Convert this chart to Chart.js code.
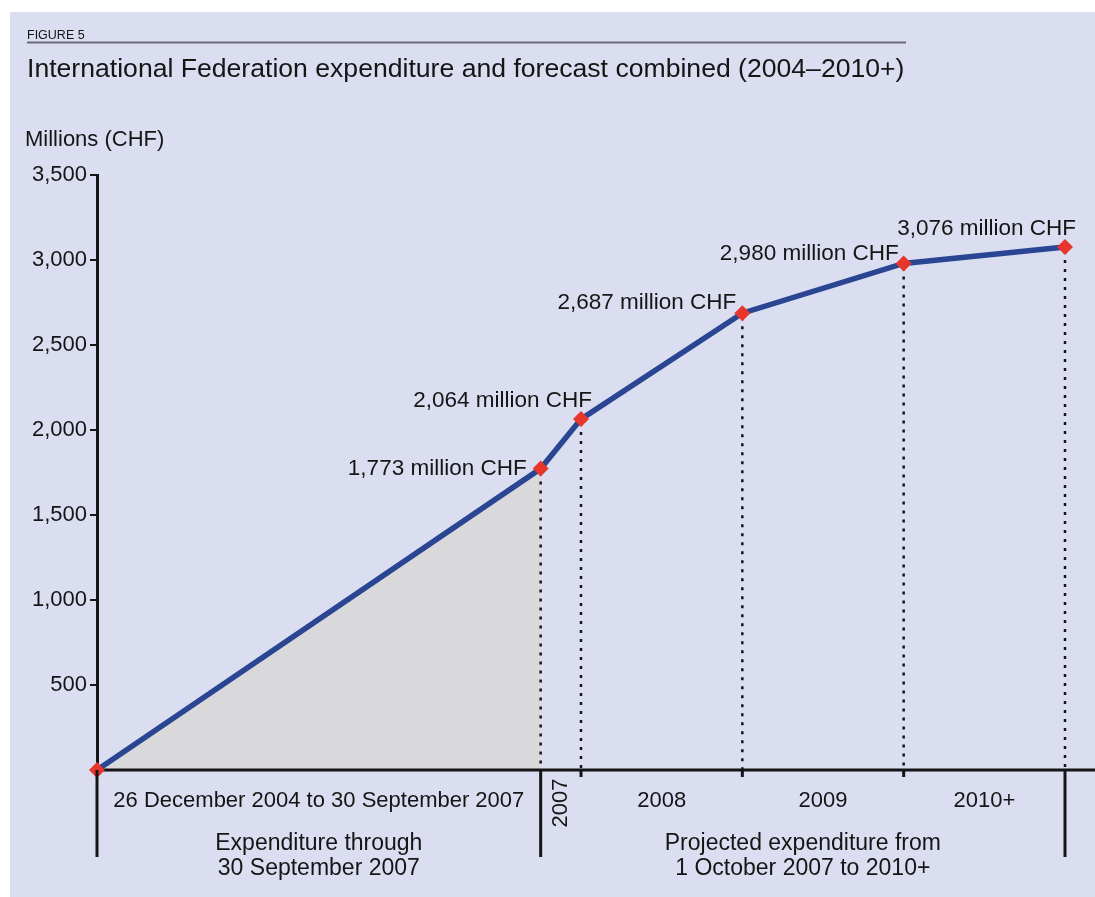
<!DOCTYPE html>
<html>
<head>
<meta charset="utf-8">
<script src="https://cdn.jsdelivr.net/npm/chart.js@4.4.1/dist/chart.umd.min.js"></script>
<style>
  html, body { margin: 0; padding: 0; background: #fff; }
  #panel { position: absolute; left: 10px; top: 12px; width: 1085px; height: 885px; background: #dbdef0; }
</style>
</head>
<body>
<div id="panel"><canvas id="chart" width="1085" height="885"></canvas></div>
<script>
// months since 26 December 2004 at the end of each period
const periodEnds = [0, 33, 36, 48, 60, 72];
// cumulative expenditure, millions CHF
const cumulative = [0, 1773, 2064, 2687, 2980, 3076];
const periodLabels = ['26 December 2004 to 30 September 2007', '2007', '2008', '2009', '2010+'];
const groupLabels = [
    ['Expenditure through', '30 September 2007'],
    ['Projected expenditure from', '1 October 2007 to 2010+']
];
const yTicks = [500, 1000, 1500, 2000, 2500, 3000, 3500];

const FONT = 'Liberation Sans, Arial, sans-serif';
const INK = '#151515';

// label placement next to each point: [dx, dy]
const labelOffsets = [null, [-14, 0], [11, -18], [-6, -10], [-5, -10], [11, -18]];

const fmt = v => v.toLocaleString('en-US');

const decorations = {
    id: 'decorations',
    afterDatasetDraw(chart, args) {
        if (args.index !== 1) return;
        // horizontal axis over the grey fill, running to the panel edge
        const { ctx, chartArea, width } = chart;
        ctx.save();
        ctx.strokeStyle = INK;
        ctx.lineWidth = 3;
        ctx.beginPath();
        ctx.moveTo(chartArea.left, chartArea.bottom);
        ctx.lineTo(width, chartArea.bottom);
        ctx.stroke();
        // dotted drop lines
        const { x, y } = chart.scales;
        ctx.lineWidth = 2.5;
        ctx.setLineDash([3, 6]);
        for (let i = 1; i < periodEnds.length; i++) {
            const px = x.getPixelForValue(periodEnds[i]);
            ctx.beginPath();
            ctx.moveTo(px, y.getPixelForValue(cumulative[i]) + 4);
            ctx.lineTo(px, chartArea.bottom);
            ctx.stroke();
        }
        ctx.restore();
    },
    afterDraw(chart) {
        const { ctx, chartArea, scales: { x, y } } = chart;
        const bottom = chartArea.bottom;
        ctx.save();

        // heading
        ctx.fillStyle = INK;
        ctx.textBaseline = 'alphabetic';
        ctx.textAlign = 'left';
        ctx.font = '12.5px ' + FONT;
        ctx.fillText('FIGURE 5', 17, 27);
        ctx.strokeStyle = '#6a6a78';
        ctx.lineWidth = 2;
        ctx.beginPath();
        ctx.moveTo(17, 30.5);
        ctx.lineTo(896, 30.5);
        ctx.stroke();
        ctx.font = '26.6px ' + FONT;
        ctx.fillText('International Federation expenditure and forecast combined (2004\u20132010+)', 17, 65);
        ctx.textBaseline = 'middle';
        ctx.font = '22px ' + FONT;
        ctx.fillText('Millions (CHF)', 15, 128);

        // period dividers below the axis
        ctx.strokeStyle = INK;
        ctx.lineWidth = 3;
        const longIdx = [0, 1, periodEnds.length - 1];
        for (let i = 0; i < periodEnds.length; i++) {
            const px = x.getPixelForValue(periodEnds[i]);
            ctx.beginPath();
            ctx.moveTo(px, bottom);
            ctx.lineTo(px, longIdx.includes(i) ? bottom + 87 : bottom + 7);
            ctx.stroke();
        }

        // period labels
        ctx.font = '22px ' + FONT;
        ctx.textAlign = 'center';
        for (let i = 0; i < periodLabels.length; i++) {
            const cx = (x.getPixelForValue(periodEnds[i]) + x.getPixelForValue(periodEnds[i + 1])) / 2;
            if (periodLabels[i] === '2007') {
                ctx.save();
                ctx.translate(cx, bottom + 33);
                ctx.rotate(-Math.PI / 2);
                ctx.fillText(periodLabels[i], 0, 0);
                ctx.restore();
            } else {
                ctx.fillText(periodLabels[i], cx, bottom + 31);
            }
        }

        // group labels
        ctx.font = '23px ' + FONT;
        const groups = [[periodEnds[0], periodEnds[1]], [periodEnds[1], periodEnds[periodEnds.length - 1]]];
        groups.forEach((g, i) => {
            const cx = (x.getPixelForValue(g[0]) + x.getPixelForValue(g[1])) / 2;
            ctx.fillText(groupLabels[i][0], cx, bottom + 74);
            ctx.fillText(groupLabels[i][1], cx, bottom + 99);
        });

        // value labels
        ctx.font = '22.5px ' + FONT;
        ctx.textAlign = 'right';
        for (let i = 1; i < cumulative.length; i++) {
            const px = x.getPixelForValue(periodEnds[i]);
            const py = y.getPixelForValue(cumulative[i]);
            const [dx, dy] = labelOffsets[i];
            ctx.fillText(fmt(cumulative[i]) + ' million CHF', px + dx, py + dy);
        }
        ctx.restore();
    }
};

const points = periodEnds.map((m, i) => ({ x: m, y: cumulative[i] }));

new Chart(document.getElementById('chart'), {
    type: 'line',
    data: {
        datasets: [{
            data: points,
            borderColor: '#2a4592',
            borderWidth: 5.5,
            tension: 0,
            fill: false,
            clip: false,
            pointStyle: 'rectRot',
            pointRadius: 8,
            pointBackgroundColor: '#e8362c',
            pointBorderWidth: 0,
            order: 1
        }, {
            data: points.slice(0, 2),
            borderWidth: 0,
            pointRadius: 0,
            fill: 'origin',
            backgroundColor: '#d9d9db',
            order: 2
        }]
    },
    options: {
        responsive: false,
        animation: false,
        layout: { padding: { top: 163, right: 30, bottom: 127, left: 0 } },
        plugins: {
            legend: { display: false },
            tooltip: { enabled: false }
        },
        scales: {
            x: {
                type: 'linear',
                min: periodEnds[0],
                max: periodEnds[periodEnds.length - 1],
                ticks: { display: false },
                grid: { display: false },
                border: { display: false },
                afterFit: s => { s.height = 0; }
            },
            y: {
                min: 0,
                max: yTicks[yTicks.length - 1],
                afterBuildTicks: s => { s.ticks = [0].concat(yTicks).map(v => ({ value: v })); },
                ticks: {
                    color: INK,
                    font: { family: FONT, size: 22 },
                    padding: 3,
                    callback: v => v === 0 ? '' : fmt(v)
                },
                grid: { drawOnChartArea: false, drawTicks: true, tickLength: 7, color: INK, lineWidth: 2 },
                border: { display: true, color: INK, width: 3 },
                afterFit: s => { s.width = 87; }
            }
        }
    },
    plugins: [decorations]
});
</script>
</body>
</html>
